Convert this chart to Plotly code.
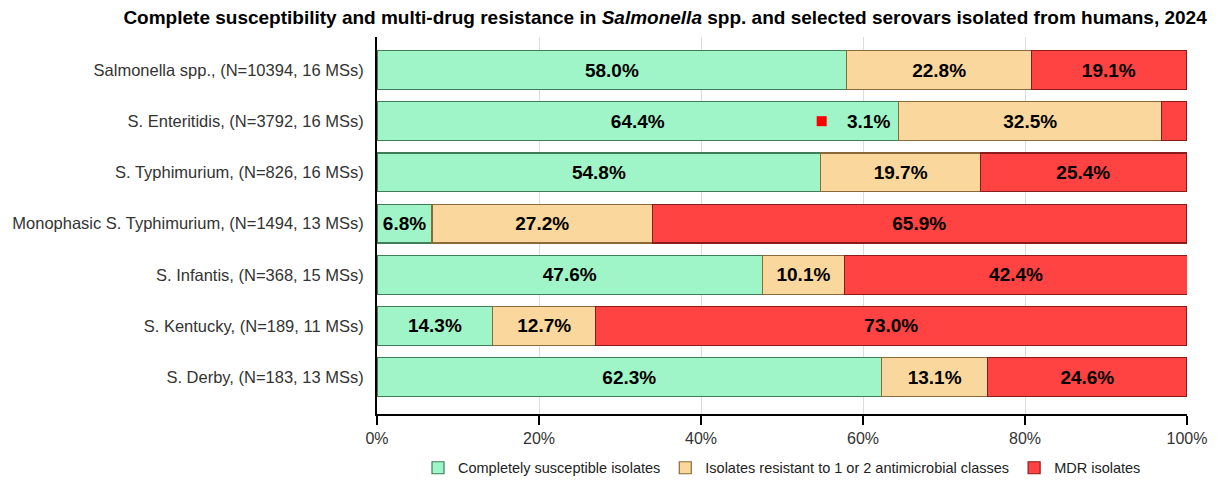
import plotly.graph_objects as go

categories = [
    "Salmonella spp., (N=10394, 16 MSs)",
    "S. Enteritidis, (N=3792, 16 MSs)",
    "S. Typhimurium, (N=826, 16 MSs)",
    "Monophasic S. Typhimurium, (N=1494, 13 MSs)",
    "S. Infantis, (N=368, 15 MSs)",
    "S. Kentucky, (N=189, 11 MSs)",
    "S. Derby, (N=183, 13 MSs)",
]
susceptible = [58.0, 64.4, 54.8, 6.8, 47.6, 14.3, 62.3]
resistant_1_2 = [22.8, 32.5, 19.7, 27.2, 10.1, 12.7, 13.1]
mdr = [19.1, 3.1, 25.4, 65.9, 42.4, 73.0, 24.6]

FONT = "Liberation Sans, Arial, sans-serif"


def labels(vals, min_show=5):
    # small segments get no inside label
    return [f"{v:.1f}%" if v >= min_show else "" for v in vals]


fig = go.Figure()
series = [
    ("Completely susceptible isolates", susceptible, "#9ff5c8", "#3f7d58"),
    ("Isolates resistant to 1 or 2 antimicrobial classes", resistant_1_2, "#fad79c", "#8a6a3a"),
    ("MDR isolates", mdr, "#ff4242", "#8b1a1a"),
]
for name, vals, fill, edge in series:
    fig.add_bar(
        y=categories, x=vals, name=name, orientation="h",
        marker=dict(color=fill, line=dict(color=edge, width=1.2)),
        text=labels(vals), textposition="inside", insidetextanchor="middle",
        textfont=dict(family=FONT, size=19, color="black", weight="bold"),
        textangle=0, width=0.76,
    )

# the small MDR share of S. Enteritidis is labelled inside the green segment
i = 1
fig.add_scatter(
    x=[susceptible[i] - 9.5], y=[categories[i]], mode="markers",
    marker=dict(symbol="square", size=10, color="#ff0000"),
    showlegend=False, hoverinfo="skip",
)
fig.add_annotation(
    x=susceptible[i] - 0.8, y=categories[i], text=f"<b>{mdr[i]:.1f}%</b>",
    showarrow=False, xanchor="right",
    font=dict(family=FONT, size=19, color="black"),
)

fig.update_layout(
    barmode="stack",
    width=1217, height=483,
    margin=dict(l=369, r=38, t=29, b=77),
    plot_bgcolor="white", paper_bgcolor="white",
    title=dict(
        text="<b>Complete susceptibility and multi-drug resistance in <i>Salmonella</i> spp. and selected serovars isolated from humans, 2024</b>",
        xref="container", x=0.985, xanchor="right",
        yref="container", y=0.981, yanchor="middle",
        font=dict(family=FONT, size=19, color="black"),
    ),
    legend=dict(
        orientation="h", x=0.5, xanchor="center",
        yref="container", y=0.048, yanchor="middle",
        font=dict(family=FONT, size=14.5, color="#222"),
        traceorder="normal", itemwidth=30,
    ),
)
fig.update_xaxes(
    range=[0, 100], tickvals=[0, 20, 40, 60, 80, 100],
    ticktext=["0%", "20%", "40%", "60%", "80%", "100%"],
    showgrid=True, gridcolor="#dcdcdc", gridwidth=1,
    showline=True, linecolor="black", linewidth=2,
    ticks="outside", ticklen=9, tickcolor="black", tickwidth=2,
    tickfont=dict(family=FONT, size=16, color="#333"),
    zeroline=False, automargin=False,
)
fig.update_yaxes(
    categoryorder="array", categoryarray=categories,
    range=[6.72, -0.645],
    showline=True, linecolor="black", linewidth=2,
    ticks="", ticklabelstandoff=8,
    tickfont=dict(family=FONT, size=16.5, color="#333"),
    automargin=False,
)

fig.write_html("out.html")
